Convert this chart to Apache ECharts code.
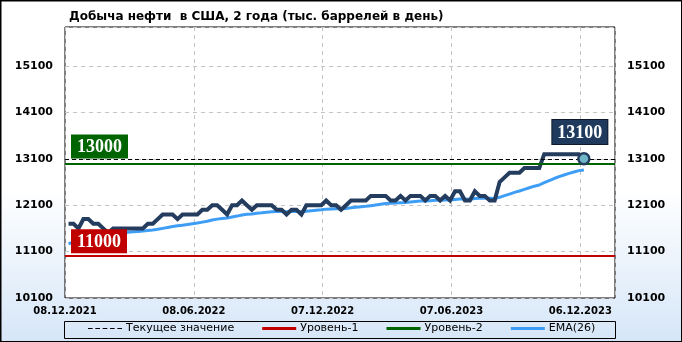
<!DOCTYPE html>
<html>
<head>
<meta charset="utf-8">
<script src="https://cdn.jsdelivr.net/npm/echarts@6/dist/echarts.min.js"></script>
<style>html,body{margin:0;padding:0;background:#fff}#c{width:682px;height:342px}</style>
</head>
<body>
<div id="c"></div>
<script>
// ---- data ----
const titleText = 'Добыча нефти  в США, 2 года (тыс. баррелей в день)';
const axisStartDate = '2021-12-08';   // first axis tick (08.12.2021)
const dataStartDate = '2021-12-13';   // date of the first weekly value
const axisWeeks = 111;                // length of the time axis, weeks
const xTickLabels = ['08.12.2021', '08.06.2022', '07.12.2022', '07.06.2023', '06.12.2023'];
const xTickWeeks = 26;
const yTickMin = 10100;
const yTickStep = 1000;
const yMax = 15940;

const production = [
  11700,11700,11600,11800,11800,11700,11700,11600,11500,11600,
  11600,11600,11600,11600,11600,11600,11700,11700,11800,11900,
  11900,11900,11800,11900,11900,11900,11900,12000,12000,12100,
  12100,12000,11900,12100,12100,12200,12100,12000,12100,12100,
  12100,12100,12000,12000,11900,12000,12000,11900,12100,12100,
  12100,12100,12200,12100,12100,12000,12100,12200,12200,12200,
  12200,12300,12300,12300,12300,12200,12200,12300,12200,12300,
  12300,12300,12200,12300,12300,12200,12300,12200,12400,12400,
  12200,12200,12400,12300,12300,12200,12200,12600,12700,12800,
  12800,12800,12900,12900,12900,12900,13200,13200,13200,13200,
  13200,13200,13200,13200,13100
];
const ema26 = [
  11270,11300,11330,11370,11400,11430,11450,11465,11475,11485,
  11495,11505,11515,11525,11535,11545,11555,11565,11580,11600,
  11620,11640,11655,11670,11685,11700,11715,11735,11755,11780,
  11800,11815,11825,11845,11865,11890,11905,11910,11925,11935,
  11950,11960,11965,11965,11960,11965,11965,11960,11970,11980,
  11990,12000,12015,12020,12025,12025,12030,12045,12055,12065,
  12075,12090,12105,12120,12135,12140,12145,12155,12160,12170,
  12180,12190,12190,12195,12205,12205,12210,12210,12225,12235,
  12235,12230,12245,12250,12250,12250,12245,12270,12305,12340,
  12375,12405,12440,12475,12510,12535,12585,12630,12675,12715,
  12750,12785,12815,12845,12860
];
const level1 = 11000;
const level2 = 13000;
const currentValue = 13100;
const legendNames = ['Текущее значение', 'Уровень-1', 'Уровень-2', 'EMA(26)'];

// ---- time helpers ----
const WEEK = 7 * 86400000;
const t0 = Date.parse(axisStartDate + 'T00:00:00Z');
const d0 = Date.parse(dataStartDate + 'T00:00:00Z');
const dates = production.map((_, i) => d0 + i * WEEK);
const prodData = production.map((v, i) => [dates[i], v]);
const emaData = ema26.map((v, i) => [dates[i], v]);
const lastIdx = production.length - 1;

const NAVY = '#243d5e';
const RED = '#c00000';
const GREEN = '#006400';
const BLUE = '#3e9ef5';
const labelFont = {fontFamily: 'DejaVu Sans', fontWeight: 'bold', fontSize: 11, color: '#000'};
const boxFont = {fontFamily: 'Liberation Serif', fontWeight: 'bold', fontSize: 18, color: '#fff'};

const chart = echarts.init(document.getElementById('c'), null, {renderer: 'canvas'});
const yAxisBase = {
  type: 'value', min: yTickMin, max: yMax, interval: yTickStep,
  axisLine: {show: false}, axisTick: {show: false},
  axisLabel: Object.assign({showMaxLabel: false, margin: 12, formatter: (v) => String(v)}, labelFont)
};
chart.setOption({
  animation: false,
  backgroundColor: {
    type: 'linear', x: 0, y: 0, x2: 0, y2: 1,
    colorStops: [{offset: 0, color: '#ffffff'}, {offset: 0.55, color: '#ffffff'}, {offset: 1, color: '#d6e6f8'}]
  },
  title: {
    text: titleText, left: 64, top: 6,
    textStyle: {fontFamily: 'DejaVu Sans', fontWeight: 'bold', fontSize: 12, color: '#000'}
  },
  grid: {left: 65, right: 67, top: 27, bottom: 44, show: true, backgroundColor: '#fff', borderColor: '#000', borderWidth: 1},
  xAxis: {
    type: 'value', min: t0, max: t0 + axisWeeks * WEEK, interval: xTickWeeks * WEEK,
    axisLine: {show: false}, axisTick: {show: false},
    axisLabel: {
      margin: 8, fontSize: 10, fontFamily: 'DejaVu Sans', fontWeight: 'bold', color: '#000',
      showMaxLabel: false, showMinLabel: true,
      formatter: (v) => xTickLabels[Math.round((v - t0) / (xTickWeeks * WEEK))] || ''
    },
    splitLine: {show: true, lineStyle: {color: '#c4c4c4', type: [4, 4], width: 1}}
  },
  yAxis: [
    Object.assign({position: 'left', splitLine: {show: true, lineStyle: {color: '#c4c4c4', type: [4, 4], width: 1}}}, yAxisBase),
    Object.assign({position: 'right', splitLine: {show: false}}, yAxisBase)
  ],
  legend: {
    data: [
      {name: legendNames[0], icon: 'path://M0,0H5V1H0Z M8,0H13V1H8Z M16,0H21V1H16Z M24,0H29V1H24Z M32,0H37V1H32Z', itemStyle: {color: '#000'}},
      {name: legendNames[1], icon: 'rect', itemStyle: {color: RED}},
      {name: legendNames[2], icon: 'rect', itemStyle: {color: GREEN}},
      {name: legendNames[3], icon: 'rect', itemStyle: {color: BLUE}}
    ],
    left: 88, top: 323, padding: 0, itemGap: 28, itemWidth: 34, itemHeight: 3,
    selectedMode: false,
    textStyle: {fontFamily: 'DejaVu Sans', fontSize: 11, color: '#000', padding: [0, 0, 0, -1]}
  },
  graphic: [
    {type: 'rect', left: 64, top: 321, shape: {width: 551, height: 17}, style: {fill: 'transparent', stroke: '#000', lineWidth: 1}, silent: true},
    {type: 'rect', left: 0, top: 0, shape: {width: 681, height: 341}, style: {fill: 'transparent', stroke: '#000', lineWidth: 1.5}, silent: true, z: 100}
  ],
  series: [
    {
      name: legendNames[1], type: 'line', data: [], color: RED,
      markLine: {
        silent: true, symbol: 'none', animation: false,
        lineStyle: {color: RED, width: 2, type: 'solid'},
        label: Object.assign({show: true, position: 'insideStartTop', formatter: String(level1), backgroundColor: RED, padding: [4, 6, 2, 6], distance: [6, 3]}, boxFont),
        data: [{yAxis: level1}]
      }
    },
    {
      name: legendNames[2], type: 'line', data: [], color: GREEN,
      markLine: {
        silent: true, symbol: 'none', animation: false,
        lineStyle: {color: GREEN, width: 2, type: 'solid'},
        label: Object.assign({show: true, position: 'insideStartTop', formatter: String(level2), backgroundColor: GREEN, padding: [4, 6, 2, 6], distance: [6, 5]}, boxFont),
        data: [{yAxis: level2}]
      }
    },
    {
      name: legendNames[0], type: 'line', data: [], color: '#000',
      markLine: {
        silent: true, symbol: 'none', animation: false,
        lineStyle: {color: '#000', width: 1, type: [4, 3]},
        label: {show: false},
        data: [{yAxis: currentValue}]
      }
    },
    {
      name: legendNames[3], type: 'line', data: emaData, color: BLUE,
      showSymbol: false, symbol: 'none', lineStyle: {color: BLUE, width: 3}, z: 3
    },
    {
      name: 'Добыча', type: 'line', data: prodData, color: NAVY,
      showSymbol: false, symbol: 'none', lineStyle: {color: NAVY, width: 4, join: 'miter'}, z: 4
    },
    {
      name: 'last', type: 'scatter', data: [prodData[lastIdx]], z: 5,
      symbol: 'circle', symbolSize: 11,
      itemStyle: {color: '#6fb6c9', borderColor: NAVY, borderWidth: 2.5, opacity: 1},
      label: Object.assign({
        show: true, position: 'top', distance: 8, formatter: (p) => String(p.value[1]),
        backgroundColor: '#1f3a5c', borderColor: '#0d1a2a', borderWidth: 1, padding: [4, 5, 2, 5], offset: [-4, 0], opacity: 1
      }, boxFont)
    }
  ]
});
</script>
</body>
</html>
